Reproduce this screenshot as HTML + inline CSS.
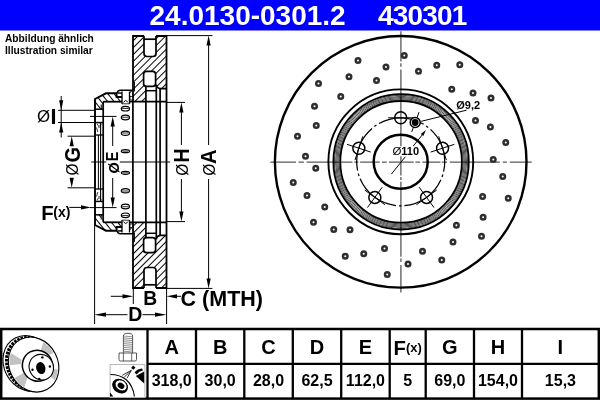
<!DOCTYPE html>
<html><head><meta charset="utf-8"><style>
html,body{margin:0;padding:0;background:#fff;}
body{width:600px;height:400px;overflow:hidden;position:relative;font-family:"Liberation Sans",sans-serif;}
#bar{position:absolute;left:0;top:0;width:600px;height:30px;}
#bar span{position:absolute;top:1px;color:#fff;font-weight:bold;font-size:28px;line-height:30px;letter-spacing:0;}
#note{position:absolute;left:4.8px;top:33px;font-size:10.2px;font-weight:bold;line-height:11.6px;color:#000;}
svg{position:absolute;left:0;top:0;will-change:transform;}
#bar,#note{will-change:transform;}
.t{font-family:"Liberation Sans",sans-serif;font-weight:bold;fill:#000;}
.cl{stroke:#5a5a5a;stroke-width:1.3;fill:none;}
.th{stroke:#000;stroke-width:1;fill:none;}
</style></head><body>
<svg width="600" height="400" viewBox="0 0 600 400">
<defs>
<pattern id="hd" patternUnits="userSpaceOnUse" width="4.9" height="4.9" patternTransform="rotate(45)"><rect width="4.9" height="4.9" fill="#fff"/><line x1="0.5" y1="0" x2="0.5" y2="4.9" stroke="#000" stroke-width="1"/></pattern>
<pattern id="hh" patternUnits="userSpaceOnUse" width="5" height="5" patternTransform="rotate(-38.7)"><rect width="5" height="5" fill="#fff"/><line x1="0.5" y1="0" x2="0.5" y2="5" stroke="#000" stroke-width="1"/></pattern>
<pattern id="hd2" patternUnits="userSpaceOnUse" width="4.9" height="4.9" patternTransform="rotate(-45)"><rect width="4.9" height="4.9" fill="#fff"/><line x1="0.5" y1="0" x2="0.5" y2="4.9" stroke="#000" stroke-width="1"/></pattern>
<pattern id="hh2" patternUnits="userSpaceOnUse" width="5" height="5" patternTransform="rotate(38.7)"><rect width="5" height="5" fill="#fff"/><line x1="0.5" y1="0" x2="0.5" y2="5" stroke="#000" stroke-width="1"/></pattern>
</defs>
<rect x="0" y="0" width="600" height="30.5" fill="#0000ff"/><path class="cl" d="M270.3,162.1H296 M298.6,162.1H303.9 M306.5,162.1H352.5 M354.3,162.1H358.3 M360.1,162.1H379.7 M382,162.1H386.7 M389,162.1H413.7 M415.4,162.1H420.1 M422.4,162.1H440.5 M441.7,162.1H447 M449.8,162.1H499.9 M502.8,162.1H506.9 M509.8,162.1H531.8"/><path class="cl" d="M400.9,31.2V61.5 M400.9,63.3V66.8 M400.9,69.4V175.4 M400.9,176.9V180.1 M400.9,181.75V256.7 M400.9,258.5V262 M400.9,264.9V292.4"/><circle cx="400.7" cy="161.8" r="125.8" fill="none" stroke="#000" stroke-width="2.4"/><circle cx="358" cy="60.5" r="2.25" fill="none" stroke="#2e2e2e" stroke-width="2.5"/><circle cx="386" cy="67" r="2.25" fill="none" stroke="#2e2e2e" stroke-width="2.5"/><circle cx="349" cy="76.75" r="2.25" fill="none" stroke="#2e2e2e" stroke-width="2.5"/><circle cx="376.5" cy="80.5" r="2.25" fill="none" stroke="#2e2e2e" stroke-width="2.5"/><circle cx="318.5" cy="83.5" r="2.25" fill="none" stroke="#2e2e2e" stroke-width="2.5"/><circle cx="340.75" cy="96.5" r="2.25" fill="none" stroke="#2e2e2e" stroke-width="2.5"/><circle cx="314.5" cy="106.25" r="2.25" fill="none" stroke="#2e2e2e" stroke-width="2.5"/><circle cx="316.25" cy="125.5" r="2.25" fill="none" stroke="#2e2e2e" stroke-width="2.5"/><circle cx="404.25" cy="55.5" r="2.25" fill="none" stroke="#2e2e2e" stroke-width="2.5"/><circle cx="418.5" cy="71.25" r="2.25" fill="none" stroke="#2e2e2e" stroke-width="2.5"/><circle cx="436.75" cy="65.25" r="2.25" fill="none" stroke="#2e2e2e" stroke-width="2.5"/><circle cx="459.75" cy="64.75" r="2.25" fill="none" stroke="#2e2e2e" stroke-width="2.5"/><circle cx="451.75" cy="89.25" r="2.25" fill="none" stroke="#2e2e2e" stroke-width="2.5"/><circle cx="473" cy="93" r="2.25" fill="none" stroke="#2e2e2e" stroke-width="2.5"/><circle cx="491" cy="98" r="2.25" fill="none" stroke="#2e2e2e" stroke-width="2.5"/><circle cx="475.5" cy="120.5" r="2.25" fill="none" stroke="#2e2e2e" stroke-width="2.5"/><circle cx="490.4" cy="127" r="2.25" fill="none" stroke="#2e2e2e" stroke-width="2.5"/><circle cx="297.5" cy="136.25" r="2.25" fill="none" stroke="#2e2e2e" stroke-width="2.5"/><circle cx="305.5" cy="156.25" r="2.25" fill="none" stroke="#2e2e2e" stroke-width="2.5"/><circle cx="315.75" cy="168.25" r="2.25" fill="none" stroke="#2e2e2e" stroke-width="2.5"/><circle cx="293.25" cy="182.5" r="2.25" fill="none" stroke="#2e2e2e" stroke-width="2.5"/><circle cx="307" cy="195.4" r="2.25" fill="none" stroke="#2e2e2e" stroke-width="2.5"/><circle cx="324.75" cy="206.9" r="2.25" fill="none" stroke="#2e2e2e" stroke-width="2.5"/><circle cx="313.5" cy="222.3" r="2.25" fill="none" stroke="#2e2e2e" stroke-width="2.5"/><circle cx="505.75" cy="142.5" r="2.25" fill="none" stroke="#2e2e2e" stroke-width="2.5"/><circle cx="493.25" cy="159.5" r="2.25" fill="none" stroke="#2e2e2e" stroke-width="2.5"/><circle cx="502.75" cy="176.5" r="2.25" fill="none" stroke="#2e2e2e" stroke-width="2.5"/><circle cx="482.6" cy="196.6" r="2.25" fill="none" stroke="#2e2e2e" stroke-width="2.5"/><circle cx="508.25" cy="198.25" r="2.25" fill="none" stroke="#2e2e2e" stroke-width="2.5"/><circle cx="483.1" cy="217.3" r="2.25" fill="none" stroke="#2e2e2e" stroke-width="2.5"/><circle cx="456.4" cy="225.2" r="2.25" fill="none" stroke="#2e2e2e" stroke-width="2.5"/><circle cx="333.75" cy="229.5" r="2.25" fill="none" stroke="#2e2e2e" stroke-width="2.5"/><circle cx="350" cy="229.75" r="2.25" fill="none" stroke="#2e2e2e" stroke-width="2.5"/><circle cx="384.5" cy="248.5" r="2.25" fill="none" stroke="#2e2e2e" stroke-width="2.5"/><circle cx="363.75" cy="253.75" r="2.25" fill="none" stroke="#2e2e2e" stroke-width="2.5"/><circle cx="345.25" cy="256.25" r="2.25" fill="none" stroke="#2e2e2e" stroke-width="2.5"/><circle cx="387.25" cy="274.5" r="2.25" fill="none" stroke="#2e2e2e" stroke-width="2.5"/><circle cx="481.5" cy="236.25" r="2.25" fill="none" stroke="#2e2e2e" stroke-width="2.5"/><circle cx="453" cy="242" r="2.25" fill="none" stroke="#2e2e2e" stroke-width="2.5"/><circle cx="422.5" cy="251.25" r="2.25" fill="none" stroke="#2e2e2e" stroke-width="2.5"/><circle cx="441.75" cy="260" r="2.25" fill="none" stroke="#2e2e2e" stroke-width="2.5"/><circle cx="408" cy="264" r="2.25" fill="none" stroke="#2e2e2e" stroke-width="2.5"/><circle cx="400.8" cy="161.8" r="72.4" fill="none" stroke="#000" stroke-width="1.9"/><circle cx="401.1" cy="161.8" r="67.7" fill="none" stroke="#000" stroke-width="1.8"/><circle cx="401.1" cy="161.8" r="62.2" fill="none" stroke="#000" stroke-width="0.7"/><circle cx="401.1" cy="161.8" r="63.3" fill="none" stroke="#000" stroke-width="0.7"/><circle cx="401.1" cy="161.8" r="64.4" fill="none" stroke="#000" stroke-width="0.7"/><circle cx="401.1" cy="161.8" r="65.5" fill="none" stroke="#000" stroke-width="0.7"/><circle cx="401.1" cy="161.8" r="66.5" fill="none" stroke="#000" stroke-width="0.7"/><circle cx="401.1" cy="161.8" r="60.8" fill="none" stroke="#000" stroke-width="1.8"/><circle cx="400.7" cy="161.8" r="44" fill="none" stroke="#000" stroke-width="1.25" stroke-dasharray="2.5 3 46.792 3" stroke-dashoffset="42.335"/><circle cx="400.7" cy="161.8" r="27" fill="none" stroke="#000" stroke-width="2.5"/><circle cx="400.70" cy="117.80" r="6" fill="none" stroke="#000" stroke-width="1.5"/><line x1="413.20" y1="117.80" x2="388.20" y2="117.80" stroke="#000" stroke-width="1"/><circle cx="442.55" cy="148.20" r="6" fill="none" stroke="#000" stroke-width="1.5"/><line x1="430.66" y1="152.07" x2="454.43" y2="144.34" stroke="#000" stroke-width="1"/><line x1="446.41" y1="160.09" x2="438.68" y2="136.32" stroke="#000" stroke-width="1"/><circle cx="426.56" cy="197.40" r="6" fill="none" stroke="#000" stroke-width="1.5"/><line x1="419.22" y1="187.28" x2="433.91" y2="207.51" stroke="#000" stroke-width="1"/><line x1="416.45" y1="204.74" x2="436.68" y2="190.05" stroke="#000" stroke-width="1"/><circle cx="374.84" cy="197.40" r="6" fill="none" stroke="#000" stroke-width="1.5"/><line x1="382.18" y1="187.28" x2="367.49" y2="207.51" stroke="#000" stroke-width="1"/><line x1="364.72" y1="190.05" x2="384.95" y2="204.74" stroke="#000" stroke-width="1"/><circle cx="358.85" cy="148.20" r="6" fill="none" stroke="#000" stroke-width="1.5"/><line x1="370.74" y1="152.07" x2="346.97" y2="144.34" stroke="#000" stroke-width="1"/><line x1="362.72" y1="136.32" x2="354.99" y2="160.09" stroke="#000" stroke-width="1"/><line x1="411.74" y1="131.88" x2="419.01" y2="112.18" stroke="#000" stroke-width="1"/><circle cx="415.2" cy="122.5" r="5" fill="#fff" stroke="#000" stroke-width="1.5"/><circle cx="415.2" cy="122.5" r="3.4" fill="#000"/><polyline points="421.2,121.3 466.5,110.2" fill="none" stroke="#000" stroke-width="1"/><text x="456.3" y="108.8" class="t" font-size="11">Ø9,2</text><line x1="391.3" y1="174.2" x2="405.3" y2="156.8" stroke="#000" stroke-width="1"/><line x1="412.8" y1="146.6" x2="423" y2="134" stroke="#000" stroke-width="1"/><polygon points="425.9,130.1 420.8,133.9 423.3,135.9" fill="#000"/><rect x="392" y="146.3" width="26.5" height="9.9" fill="#fff"/><text x="392.4" y="155" class="t" font-size="11"><tspan style="font-weight:normal" font-size="11.5">Ø</tspan>110</text><path class="cl" d="M91.3,162.0H106.3 M119.8,162.0H170.2"/><g><path d="M133,36 H166 V88.6 H160.1 Q156.6,88 156.4,84.5 V86.4 H145.6 V102 H133 Z" fill="url(#hd)"/><path d="M95,99 L106,93.3 H116.6 V97 H122 V101.7 H103.2 V109.2 H95 Z" fill="url(#hh)"/><path d="M97,124 L99,126.5 L101.5,124 M99,126.5 V128" fill="none" stroke="#000" stroke-width="0.8"/><line x1="96.5" y1="127.5" x2="97.8" y2="132" stroke="#000" stroke-width="0.8"/><path d="M129.5,91 H133 V101.7 H129.5 Z" fill="url(#hd)"/><path d="M144,36 V53.5 Q144,56.5 147,56.5 H153 Q156,56.5 156,53.5 V36" fill="#fff" stroke="#000" stroke-width="1.7"/><line x1="144" y1="39.2" x2="156" y2="39.2" stroke="#000" stroke-width="1.7"/><rect x="143.6" y="71.3" width="12" height="15.1" rx="3" fill="#fff" stroke="#000" stroke-width="1.7"/><line x1="145.6" y1="90.7" x2="156" y2="90.7" stroke="#000" stroke-width="1.5"/><path d="M133,102 V36 H144 M156,36 H166.5 V162" fill="none" stroke="#000" stroke-width="1.8"/><line x1="134.5" y1="82" x2="134.5" y2="91.5" stroke="#000" stroke-width="0.9"/><path d="M156.4,84.5 Q156.6,88 160.1,88.6 H166.5" fill="none" stroke="#000" stroke-width="1.6"/><line x1="145.9" y1="86" x2="145.9" y2="162" stroke="#000" stroke-width="1.7"/><line x1="156.3" y1="86" x2="156.3" y2="162" stroke="#000" stroke-width="1.7"/><line x1="160.1" y1="88.6" x2="160.1" y2="162" stroke="#000" stroke-width="1.7"/><line x1="132.9" y1="102" x2="132.9" y2="162" stroke="#000" stroke-width="1.7"/><path d="M95,162 V99 L106,93.3 H116.6 V97 H122" fill="none" stroke="#000" stroke-width="1.9"/><path d="M117.2,93 Q117.6,90.3 120.5,90.3 H133" fill="none" stroke="#000" stroke-width="1.6"/><line x1="117.5" y1="93.1" x2="122" y2="93.1" stroke="#000" stroke-width="1.4"/><line x1="103.2" y1="101.7" x2="122" y2="101.7" stroke="#000" stroke-width="1.8"/><line x1="129.5" y1="101.7" x2="166.5" y2="101.7" stroke="#000" stroke-width="1.8"/><line x1="103.2" y1="101.7" x2="103.2" y2="162" stroke="#000" stroke-width="1.7"/><line x1="100.6" y1="122.6" x2="100.6" y2="162" stroke="#000" stroke-width="1.1"/><line x1="98.4" y1="135" x2="98.4" y2="162" stroke="#000" stroke-width="1"/><rect x="100.6" y="104.5" width="2.6" height="4.5" fill="#444"/><line x1="95" y1="109.2" x2="103.2" y2="109.2" stroke="#000" stroke-width="1.5"/><line x1="95" y1="122.6" x2="103.2" y2="122.6" stroke="#000" stroke-width="1.5"/><line x1="95" y1="135" x2="103.2" y2="135" stroke="#000" stroke-width="1.3"/><line x1="122" y1="91.5" x2="122" y2="104" stroke="#000" stroke-width="1.3"/><line x1="129.5" y1="91.5" x2="129.5" y2="104" stroke="#000" stroke-width="1.3"/><line x1="122" y1="103.8" x2="129.5" y2="103.8" stroke="#000" stroke-width="0.8"/><path d="M123.6,102.4 Q125.7,98.8 127.8,102.4" fill="none" stroke="#000" stroke-width="1"/><rect x="130" y="96.5" width="2.5" height="3.5" fill="#fff" stroke="#000" stroke-width="0.8"/><ellipse cx="125.4" cy="108.7" rx="4.1" ry="2.3" fill="#fff" stroke="#000" stroke-width="1.2"/><line x1="122.2" y1="108.5" x2="128.6" y2="108.5" stroke="#000" stroke-width="0.8"/><ellipse cx="125.4" cy="117.5" rx="4.1" ry="2.3" fill="#fff" stroke="#000" stroke-width="1.2"/><line x1="122.2" y1="117.3" x2="128.6" y2="117.3" stroke="#000" stroke-width="0.8"/><ellipse cx="125.4" cy="133.2" rx="4.1" ry="2.1" fill="#fff" stroke="#000" stroke-width="1.2"/><line x1="122.2" y1="133.0" x2="128.6" y2="133.0" stroke="#000" stroke-width="0.8"/><ellipse cx="125.4" cy="151.2" rx="4.1" ry="1.5" fill="#fff" stroke="#000" stroke-width="1.2"/><line x1="122.5" y1="151.2" x2="128.3" y2="151.2" stroke="#000" stroke-width="0.7"/><line x1="166" y1="35.6" x2="212.4" y2="35.6" class="th"/><line x1="166" y1="102.4" x2="185" y2="102.4" class="th"/><line x1="90" y1="116.4" x2="116.5" y2="116.4" class="th"/><line x1="67.5" y1="136.2" x2="95" y2="136.2" class="th"/><line x1="208.6" y1="40" x2="208.6" y2="145" class="th"/><polygon points="208.6,35.6 206.5,45.6 210.7,45.6" fill="#000"/><line x1="181.4" y1="106" x2="181.4" y2="145" class="th"/><polygon points="181.4,102.4 179.3,112.4 183.5,112.4" fill="#000"/><line x1="112.7" y1="120" x2="112.7" y2="146" class="th"/><polygon points="112.7,116.4 110.60000000000001,126.4 114.8,126.4" fill="#000"/><line x1="71.7" y1="140" x2="71.7" y2="146" class="th"/><polygon points="71.7,136.2 69.60000000000001,146.2 73.8,146.2" fill="#000"/></g><g transform="translate(0,324.0) scale(1,-1)"><path d="M133,36 H166 V88.6 H160.1 Q156.6,88 156.4,84.5 V86.4 H145.6 V102 H133 Z" fill="url(#hd2)"/><path d="M95,99 L106,93.3 H116.6 V97 H122 V101.7 H103.2 V109.2 H95 Z" fill="url(#hh2)"/><path d="M97,124 L99,126.5 L101.5,124 M99,126.5 V128" fill="none" stroke="#000" stroke-width="0.8"/><line x1="96.5" y1="127.5" x2="97.8" y2="132" stroke="#000" stroke-width="0.8"/><path d="M129.5,91 H133 V101.7 H129.5 Z" fill="url(#hd2)"/><path d="M144,36 V53.5 Q144,56.5 147,56.5 H153 Q156,56.5 156,53.5 V36" fill="#fff" stroke="#000" stroke-width="1.7"/><line x1="144" y1="39.2" x2="156" y2="39.2" stroke="#000" stroke-width="1.7"/><rect x="143.6" y="71.3" width="12" height="15.1" rx="3" fill="#fff" stroke="#000" stroke-width="1.7"/><line x1="145.6" y1="90.7" x2="156" y2="90.7" stroke="#000" stroke-width="1.5"/><path d="M133,102 V36 H144 M156,36 H166.5 V162" fill="none" stroke="#000" stroke-width="1.8"/><line x1="134.5" y1="82" x2="134.5" y2="91.5" stroke="#000" stroke-width="0.9"/><path d="M156.4,84.5 Q156.6,88 160.1,88.6 H166.5" fill="none" stroke="#000" stroke-width="1.6"/><line x1="145.9" y1="86" x2="145.9" y2="162" stroke="#000" stroke-width="1.7"/><line x1="156.3" y1="86" x2="156.3" y2="162" stroke="#000" stroke-width="1.7"/><line x1="160.1" y1="88.6" x2="160.1" y2="162" stroke="#000" stroke-width="1.7"/><line x1="132.9" y1="102" x2="132.9" y2="162" stroke="#000" stroke-width="1.7"/><path d="M95,162 V99 L106,93.3 H116.6 V97 H122" fill="none" stroke="#000" stroke-width="1.9"/><path d="M117.2,93 Q117.6,90.3 120.5,90.3 H133" fill="none" stroke="#000" stroke-width="1.6"/><line x1="117.5" y1="93.1" x2="122" y2="93.1" stroke="#000" stroke-width="1.4"/><line x1="103.2" y1="101.7" x2="122" y2="101.7" stroke="#000" stroke-width="1.8"/><line x1="129.5" y1="101.7" x2="166.5" y2="101.7" stroke="#000" stroke-width="1.8"/><line x1="103.2" y1="101.7" x2="103.2" y2="162" stroke="#000" stroke-width="1.7"/><line x1="100.6" y1="122.6" x2="100.6" y2="162" stroke="#000" stroke-width="1.1"/><line x1="98.4" y1="135" x2="98.4" y2="162" stroke="#000" stroke-width="1"/><rect x="100.6" y="104.5" width="2.6" height="4.5" fill="#444"/><line x1="95" y1="109.2" x2="103.2" y2="109.2" stroke="#000" stroke-width="1.5"/><line x1="95" y1="122.6" x2="103.2" y2="122.6" stroke="#000" stroke-width="1.5"/><line x1="95" y1="135" x2="103.2" y2="135" stroke="#000" stroke-width="1.3"/><line x1="122" y1="91.5" x2="122" y2="104" stroke="#000" stroke-width="1.3"/><line x1="129.5" y1="91.5" x2="129.5" y2="104" stroke="#000" stroke-width="1.3"/><line x1="122" y1="103.8" x2="129.5" y2="103.8" stroke="#000" stroke-width="0.8"/><path d="M123.6,102.4 Q125.7,98.8 127.8,102.4" fill="none" stroke="#000" stroke-width="1"/><rect x="130" y="96.5" width="2.5" height="3.5" fill="#fff" stroke="#000" stroke-width="0.8"/><ellipse cx="125.4" cy="108.7" rx="4.1" ry="2.3" fill="#fff" stroke="#000" stroke-width="1.2"/><line x1="122.2" y1="108.5" x2="128.6" y2="108.5" stroke="#000" stroke-width="0.8"/><ellipse cx="125.4" cy="117.5" rx="4.1" ry="2.3" fill="#fff" stroke="#000" stroke-width="1.2"/><line x1="122.2" y1="117.3" x2="128.6" y2="117.3" stroke="#000" stroke-width="0.8"/><ellipse cx="125.4" cy="133.2" rx="4.1" ry="2.1" fill="#fff" stroke="#000" stroke-width="1.2"/><line x1="122.2" y1="133.0" x2="128.6" y2="133.0" stroke="#000" stroke-width="0.8"/><ellipse cx="125.4" cy="151.2" rx="4.1" ry="1.5" fill="#fff" stroke="#000" stroke-width="1.2"/><line x1="122.5" y1="151.2" x2="128.3" y2="151.2" stroke="#000" stroke-width="0.7"/><line x1="166" y1="35.6" x2="212.4" y2="35.6" class="th"/><line x1="166" y1="102.4" x2="185" y2="102.4" class="th"/><line x1="90" y1="116.4" x2="116.5" y2="116.4" class="th"/><line x1="67.5" y1="136.2" x2="95" y2="136.2" class="th"/><line x1="208.6" y1="40" x2="208.6" y2="145" class="th"/><polygon points="208.6,35.6 206.5,45.6 210.7,45.6" fill="#000"/><line x1="181.4" y1="106" x2="181.4" y2="145" class="th"/><polygon points="181.4,102.4 179.3,112.4 183.5,112.4" fill="#000"/><line x1="112.7" y1="120" x2="112.7" y2="146" class="th"/><polygon points="112.7,116.4 110.60000000000001,126.4 114.8,126.4" fill="#000"/><line x1="71.7" y1="140" x2="71.7" y2="146" class="th"/><polygon points="71.7,136.2 69.60000000000001,146.2 73.8,146.2" fill="#000"/></g><line x1="58" y1="110.3" x2="95" y2="110.3" class="th"/><line x1="58" y1="122.5" x2="95" y2="122.5" class="th"/><line x1="61.2" y1="96" x2="61.2" y2="137.5" class="th"/><polygon points="61.2,110.3 59.1,100.3 63.3,100.3" fill="#000"/><polygon points="61.2,122.5 59.1,132.5 63.3,132.5" fill="#000"/><line x1="69.3" y1="207.4" x2="84" y2="207.4" class="th"/><polygon points="91,207.4 81,205.3 81,209.5" fill="#000"/><line x1="133.3" y1="288" x2="133.3" y2="304" class="th"/><line x1="166.6" y1="288" x2="166.6" y2="324" class="th"/><line x1="94.6" y1="224" x2="94.6" y2="324" class="th"/><line x1="110.8" y1="296.3" x2="124" y2="296.3" class="th"/><polygon points="133.3,296.3 122.5,294.2 122.5,298.4" fill="#000"/><line x1="175" y1="296.3" x2="181" y2="296.3" class="th"/><polygon points="166.6,296.3 177,294.2 177,298.4" fill="#000"/><line x1="104" y1="314.7" x2="127.5" y2="314.7" class="th"/><polygon points="94.2,314.7 106,312.6 106,316.8" fill="#000"/><line x1="142.5" y1="314.7" x2="156" y2="314.7" class="th"/><polygon points="166.6,314.7 155,312.6 155,316.8" fill="#000"/><text x="36.9" y="122.4" class="t" font-size="16.8" font-weight="normal" style="font-weight:normal">Ø</text><text x="50.4" y="123.5" class="t" font-size="21.6">I</text><text transform="translate(78.1,175.4) rotate(-90) scale(0.92,1)" class="t" font-size="16.8" style="font-weight:normal">Ø</text><text transform="translate(79.6,162.6) rotate(-90) scale(0.93,1)" class="t" font-size="21.5" style="font-weight:bold">G</text><text transform="translate(118.6,173.6) rotate(-90) scale(1.0,1)" class="t" font-size="14.5" style="font-weight:bold">Ø</text><text transform="translate(118.1,161.2) rotate(-90) scale(0.9,1)" class="t" font-size="15.8" style="font-weight:bold">E</text><text transform="translate(188.1,175.7) rotate(-90) scale(0.92,1)" class="t" font-size="16.8" style="font-weight:normal">Ø</text><text transform="translate(188.9,162.6) rotate(-90) scale(0.92,1)" class="t" font-size="21.2" style="font-weight:bold">H</text><text transform="translate(215.1,175.7) rotate(-90) scale(0.92,1)" class="t" font-size="16.8" style="font-weight:normal">Ø</text><text transform="translate(215.9,164.0) rotate(-90) scale(0.95,1)" class="t" font-size="21.2" style="font-weight:bold">A</text><text x="41.3" y="219.8" class="t" font-size="20.3">F</text><text x="53.3" y="217.3" class="t" font-size="14">(x)</text><text x="150.3" y="305.4" class="t" font-size="19.3" text-anchor="middle">B</text><text x="180.6" y="305.8" class="t" font-size="21.5">C (MTH)</text><text x="135.3" y="321.3" class="t" font-size="19.5" text-anchor="middle">D</text><rect x="1.2" y="329" width="597.6" height="69.6" fill="none" stroke="#000" stroke-width="2.5"/><line x1="147.5" y1="329" x2="147.5" y2="399" stroke="#000" stroke-width="2.3"/><line x1="196" y1="329" x2="196" y2="399" stroke="#000" stroke-width="2.3"/><line x1="244.3" y1="329" x2="244.3" y2="399" stroke="#000" stroke-width="2.3"/><line x1="292.8" y1="329" x2="292.8" y2="399" stroke="#000" stroke-width="2.3"/><line x1="341.2" y1="329" x2="341.2" y2="399" stroke="#000" stroke-width="2.3"/><line x1="389.7" y1="329" x2="389.7" y2="399" stroke="#000" stroke-width="2.3"/><line x1="425.7" y1="329" x2="425.7" y2="399" stroke="#000" stroke-width="2.3"/><line x1="474" y1="329" x2="474" y2="399" stroke="#000" stroke-width="2.3"/><line x1="522" y1="329" x2="522" y2="399" stroke="#000" stroke-width="2.3"/><line x1="147.5" y1="363.9" x2="599" y2="363.9" stroke="#000" stroke-width="2.3"/><text x="171.75" y="354.3" class="t" font-size="20" text-anchor="middle">A</text><text x="171.75" y="385.5" class="t" font-size="16" text-anchor="middle">318,0</text><text x="220.15" y="354.3" class="t" font-size="20" text-anchor="middle">B</text><text x="220.15" y="385.5" class="t" font-size="16" text-anchor="middle">30,0</text><text x="268.55" y="354.3" class="t" font-size="20" text-anchor="middle">C</text><text x="268.55" y="385.5" class="t" font-size="16" text-anchor="middle">28,0</text><text x="317.0" y="354.3" class="t" font-size="20" text-anchor="middle">D</text><text x="317.0" y="385.5" class="t" font-size="16" text-anchor="middle">62,5</text><text x="365.45" y="354.3" class="t" font-size="20" text-anchor="middle">E</text><text x="365.45" y="385.5" class="t" font-size="16" text-anchor="middle">112,0</text><text x="407.7" y="354.5" class="t" font-size="20.3" text-anchor="middle">F<tspan font-size="13" dy="-2.6">(x)</tspan></text><text x="407.7" y="385.5" class="t" font-size="16" text-anchor="middle">5</text><text x="449.85" y="354.3" class="t" font-size="20" text-anchor="middle">G</text><text x="449.85" y="385.5" class="t" font-size="16" text-anchor="middle">69,0</text><text x="498.0" y="354.3" class="t" font-size="20" text-anchor="middle">H</text><text x="498.0" y="385.5" class="t" font-size="16" text-anchor="middle">154,0</text><text x="560.4" y="354.3" class="t" font-size="20" text-anchor="middle">I</text><text x="560.4" y="385.5" class="t" font-size="16" text-anchor="middle">15,3</text><ellipse cx="28.6" cy="363.4" rx="24.7" ry="28.7" transform="rotate(-28 28.6 363.4)" fill="#fff" stroke="#000" stroke-width="1.1"/><ellipse cx="30.8" cy="364" rx="23.400000000000002" ry="27.400000000000002" transform="rotate(-28 30.8 364)" fill="none" stroke="#000" stroke-width="3" stroke-dasharray="2.6 1"/><ellipse cx="33.6" cy="364.6" rx="24.3" ry="28.3" transform="rotate(-28 33.6 364.6)" fill="#fff" stroke="#000" stroke-width="1.1"/><polygon points="39.7,353.5 43.5,342.1 49.2,346.8 53.7,352.8 43.5,357.5" fill="#c2c2c2"/><polygon points="46.1,368.0 57.8,369.4 56.9,375.1 54.7,380.3 45.0,372.0" fill="#c2c2c2"/><polygon points="27.9,376.0 24.4,387.6 18.9,383.4 14.4,378.0 24.3,372.5" fill="#c2c2c2"/><polygon points="21.0,364.0 9.7,365.3 9.5,358.9 10.7,352.9 21.4,359.4" fill="#c2c2c2"/><ellipse cx="37.5" cy="365.7" rx="15" ry="15.6" transform="rotate(-28 37.5 365.7)" fill="#fff" stroke="#000" stroke-width="1.5"/><ellipse cx="41.3" cy="367.2" rx="12" ry="13" transform="rotate(-28 41.3 367.2)" fill="#fff" stroke="#000" stroke-width="1.1"/><ellipse cx="40.8" cy="368.1" rx="4.6" ry="6.1" transform="rotate(-15 40.8 368.1)" fill="#000"/><circle cx="42.4" cy="357.4" r="1.2" fill="#000"/><circle cx="49.9" cy="366.5" r="1.2" fill="#000"/><circle cx="39.3" cy="378.9" r="1.2" fill="#000"/><circle cx="32.5" cy="369.8" r="1.2" fill="#000"/><path d="M123.4,353 V336 Q123.4,333.3 128,333.3 Q132.6,333.3 132.6,336 V353" fill="#fff" stroke="#444" stroke-width="0.9"/><line x1="124" y1="336.0" x2="132" y2="336.8" stroke="#777" stroke-width="0.8"/><line x1="124" y1="337.9" x2="132" y2="338.7" stroke="#777" stroke-width="0.8"/><line x1="124" y1="339.8" x2="132" y2="340.6" stroke="#777" stroke-width="0.8"/><line x1="124" y1="341.7" x2="132" y2="342.5" stroke="#777" stroke-width="0.8"/><line x1="124" y1="343.6" x2="132" y2="344.4" stroke="#777" stroke-width="0.8"/><line x1="124" y1="345.5" x2="132" y2="346.3" stroke="#777" stroke-width="0.8"/><line x1="124" y1="347.4" x2="132" y2="348.2" stroke="#777" stroke-width="0.8"/><line x1="124" y1="349.3" x2="132" y2="350.1" stroke="#777" stroke-width="0.8"/><line x1="124" y1="351.2" x2="132" y2="352.0" stroke="#777" stroke-width="0.8"/><path d="M119,353 H136.5 V359.5 Q136.5,361 135,361 H120.5 Q119,361 119,359.5 Z" fill="#fff" stroke="#444" stroke-width="0.9"/><line x1="123.4" y1="353" x2="123.4" y2="361" stroke="#444" stroke-width="0.8"/><line x1="131.7" y1="353" x2="131.7" y2="361" stroke="#444" stroke-width="0.8"/><rect x="110.1" y="364.6" width="34.8" height="33" fill="#fff" stroke="#b0b0b0" stroke-width="0.9"/><path d="M110.4,374.5 C122.5,374.6 132.5,381 134.4,396.5" fill="none" stroke="#000" stroke-width="1.1"/><ellipse cx="120.1" cy="386.1" rx="8.4" ry="6.8" transform="rotate(35 120.1 386.1)" fill="#000"/><ellipse cx="121.1" cy="385.4" rx="6.4" ry="5.0" transform="rotate(35 121.1 385.4)" fill="#fff" stroke="#000" stroke-width="0.8"/><ellipse cx="121" cy="385.8" rx="3.6" ry="2.8" transform="rotate(35 121 385.8)" fill="#000"/><path d="M110,392.5 L113.4,396.5 L110,396.5 Z" fill="#000"/><rect x="131.8" y="366.2" width="3" height="3" transform="rotate(40 133.3 367.7)" fill="#000"/><path d="M134.5,372.5 Q137,369 142,368.5 L143,370.2 Q139,371 136.6,374.5 Z" fill="#000"/><path d="M135.8,376 L144.2,371.5 L144.2,383.4 Z" fill="#000"/><path d="M131.3,370.4 L122.3,375.3 M131.3,370.4 L124.2,377.2 M131.3,370.4 L127,378.2" stroke="#000" stroke-width="0.8" fill="none"/>
</svg>
<div id="bar"><span style="left:149.5px">24.0130-0301.2</span><span style="left:378px;letter-spacing:-0.8px">430301</span></div>
<div id="note">Abbildung ähnlich<br>Illustration similar</div>
</body></html>
